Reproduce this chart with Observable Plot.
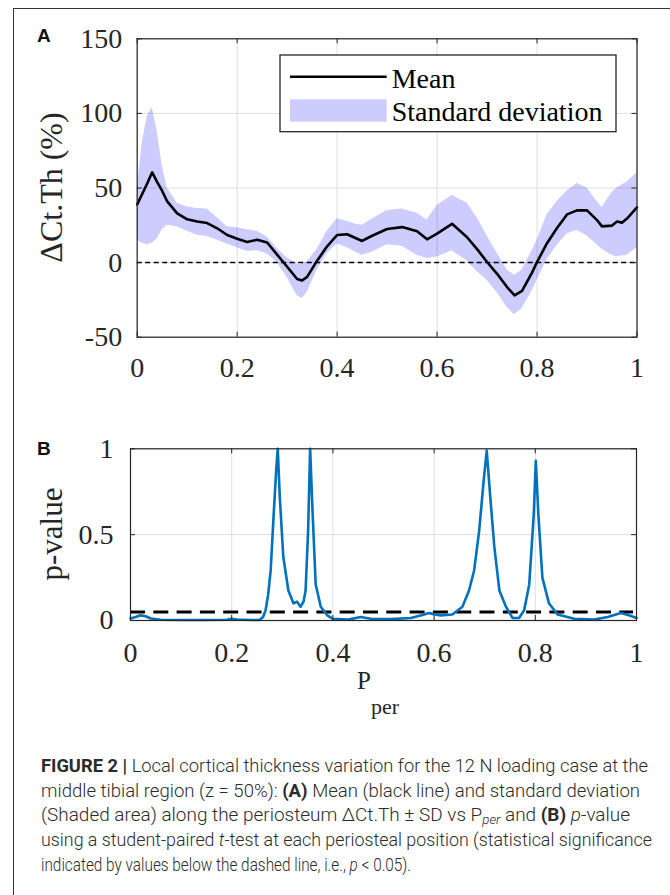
<!DOCTYPE html>
<html>
<head>
<meta charset="utf-8">
<script src="https://cdn.jsdelivr.net/npm/d3@7"></script>
<script src="https://cdn.jsdelivr.net/npm/@observablehq/plot@0.6"></script>
<style>
  html, body { margin: 0; padding: 0; background: #fff; }
  #fig { position: relative; width: 670px; height: 895px; overflow: hidden; background: #fff; }
  #border { position: absolute; left: 13px; top: 8px; width: 700px; height: 900px;
            border-left: 1px solid #333; border-top: 1px solid #333; }
  .abs { position: absolute; left: 0; }
  #overlay { position: absolute; left: 0; top: 0; }
  #caption { position: absolute; left: 41px; top: 757px; font-family: "Roboto", "Liberation Sans", sans-serif;
             font-weight: 300; font-size: 18.5px; color: #2b2b2b; }
  #caption .ln { position: absolute; left: 0; white-space: nowrap; transform-origin: 0 0; line-height: 1; }
  #caption b { font-weight: 700; color: #2b2b2b; }
  #caption sub { font-size: 0.7em; vertical-align: -0.25em; line-height: 0; }
</style>
</head>
<body>
<div id="fig">
  <div id="border"></div>
  <div id="plotA" class="abs" style="top:0px"></div>
  <div id="plotB" class="abs" style="top:400px"></div>
  <svg id="overlay" width="670" height="895"></svg>
  <div id="caption"></div>
</div>
<script>
// ---------- data ----------
const xTicks = [0, 0.2, 0.4, 0.6, 0.8, 1];
const yTicksA = [-50, 0, 50, 100, 150];
const yTicksB = [0, 0.5, 1];
const sigLevel = 0.05;

// Panel A: periosteal position, mean ΔCt.Th (%), lower / upper SD bounds
const posA  = [0,0.01,0.02,0.03,0.04,0.05,0.06, 0.08,0.10,0.12,0.14,0.16,0.18,0.20, 0.22,0.24,0.26,0.28,0.30,0.32, 0.33,0.34,0.36,0.38,0.40, 0.42,0.44,0.45,0.47,0.50, 0.53,0.56,0.58,0.60,0.63, 0.66,0.68,0.70,0.72,0.74, 0.755,0.77,0.79,0.80,0.82, 0.84,0.86,0.88,0.90,0.92, 0.93,0.95,0.96,0.97,0.98,1.00];
const meanA = [39,46,53,60.5,54,48,41, 33,29,27.5,26.5,23,18.5,16, 13.8,15.3,13.5,5.3,-2.8,-11, -12,-9.6,1.3,10.9,18.5, 19,16,14.5,18,22.5, 23.8,21,15.6,19.4,26, 17,9,0.4,-7.5,-16.4, -22,-19,-6.7,0.4,13, 23.2,32.3,35,35,28.5, 24.3,24.8,27.5,26.8,29.5,37];
const lowA  = [15,13,12,13,16,22,25, 24,21,18.3,17.5,15,12.5,10, 7.5,8,6,0,-10,-22, -24,-20,-5,6,12.7, 10,6.5,5,7,12, 11,5,2.7,3.7,8, 1,-6,-11.8,-20,-30, -35,-31,-19,-11.8,2, 11.4,19.4,21.5,18,12, 9,5,3.7,4.5,5,10];
const highA = [50,80,98,104,88,65,50, 40,37.2,36.3,36,30,24,23.4, 22,21,17.1,9.5,3,-1, -1,0.5,9,21,29.4, 27.5,25.5,25,29,35, 36,33,28.5,38.3,45, 40,30,18,6.5,-5, -8.5,-5,8,15,32, 41,48,53,50,41, 37,47,50,52,54,60];

// Panel B: periosteal position, p-value
const posB = [0,0.01,0.02,0.03,0.04,0.06,0.10,0.15,0.19,0.20,0.21,0.24,0.255,0.262,0.267,0.272,0.277,0.283,0.288,0.291,0.295,0.302,0.312,0.322,0.329,0.336,0.342,0.346,0.351,0.355,0.360,0.366,0.376,0.389,0.40,0.43,0.455,0.475,0.514,0.554,0.575,0.59,0.613,0.636,0.656,0.669,0.679,0.689,0.698,0.704,0.711,0.719,0.729,0.742,0.755,0.768,0.778,0.788,0.797,0.801,0.806,0.814,0.827,0.844,0.877,0.916,0.943,0.969,0.985,1.0];
const pB   = [0.012,0.02,0.03,0.025,0.012,0.004,0.003,0.003,0.004,0.01,0.006,0.003,0.003,0.02,0.06,0.15,0.29,0.62,0.88,1.0,0.72,0.37,0.175,0.1,0.11,0.08,0.11,0.175,0.52,1.0,0.62,0.21,0.08,0.03,0.01,0.005,0.02,0.01,0.008,0.015,0.03,0.043,0.03,0.035,0.08,0.175,0.29,0.52,0.815,0.99,0.72,0.43,0.175,0.08,0.015,0.015,0.06,0.21,0.62,0.93,0.62,0.25,0.1,0.035,0.01,0.005,0.02,0.043,0.03,0.015];

const dataA = posA.map((p, i) => ({p, m: meanA[i], lo: lowA[i], hi: highA[i]}));
const dataB = posB.map((p, i) => ({p, v: pB[i]}));

// ---------- helpers ----------
const axisCol = "#262626";
const gridCol = "#dedede";
const serif = "'Liberation Serif', 'Times New Roman', serif";
const fmt = d => String(d);

function frameMarks(xt, yt, plotW, plotH) {
  return [
    Plot.ruleX(xt, {x: d => d, stroke: axisCol, strokeWidth: 1, insetTop: plotH - 5}),
    Plot.ruleX(xt, {x: d => d, stroke: axisCol, strokeWidth: 1, insetBottom: plotH - 5}),
    Plot.ruleY(yt, {y: d => d, stroke: axisCol, strokeWidth: 1, insetRight: plotW - 5}),
    Plot.ruleY(yt, {y: d => d, stroke: axisCol, strokeWidth: 1, insetLeft: plotW - 5}),
    Plot.frame({stroke: axisCol, strokeWidth: 1.2})
  ];
}

// ---------- Panel A ----------
{
  const W = 670, H = 390, mT = 38.3, mB = 53.3, mL = 136.7, mR = 33.5;
  const plotW = W - mL - mR, plotH = H - mT - mB;
  const chart = Plot.plot({
    width: W, height: H, marginTop: mT, marginBottom: mB, marginLeft: mL, marginRight: mR,
    x: {domain: [0, 1]},
    y: {domain: [-50, 150]},
    style: {fontFamily: serif, color: axisCol, background: "transparent", overflow: "visible"},
    marks: [
      Plot.gridX(xTicks, {stroke: gridCol, strokeOpacity: 1}),
      Plot.gridY(yTicksA, {stroke: gridCol, strokeOpacity: 1}),
      Plot.areaY(dataA, {x: "p", y1: "lo", y2: "hi", fill: "#0000ff", fillOpacity: 0.2}),
      Plot.ruleY([0], {stroke: "#000", strokeWidth: 1.5, strokeDasharray: "5,3.5"}),
      Plot.line(dataA, {x: "p", y: "m", stroke: "#000", strokeWidth: 2.6}),
      ...frameMarks(xTicks, yTicksA, plotW, plotH),
      Plot.axisX(xTicks, {tickSize: 0, tickPadding: 20, fontSize: 28, tickFormat: fmt, label: null}),
      Plot.axisY(yTicksA, {tickSize: 0, tickPadding: 15, fontSize: 28, tickFormat: fmt, label: null})
    ]
  });
  document.getElementById("plotA").appendChild(chart);
}

// ---------- Panel B ----------
{
  const W = 670, H = 300, mT = 48.3, mB = 80, mL = 130, mR = 34;
  const plotW = W - mL - mR, plotH = H - mT - mB;
  const chart = Plot.plot({
    width: W, height: H, marginTop: mT, marginBottom: mB, marginLeft: mL, marginRight: mR,
    x: {domain: [0, 1]},
    y: {domain: [0, 1]},
    style: {fontFamily: serif, color: axisCol, background: "transparent", overflow: "visible"},
    marks: [
      Plot.gridX(xTicks, {stroke: gridCol, strokeOpacity: 1}),
      Plot.gridY(yTicksB, {stroke: gridCol, strokeOpacity: 1}),
      Plot.ruleY([sigLevel], {stroke: "#000", strokeWidth: 3, strokeDasharray: "15,8.3", insetRight: 3}),
      Plot.line(dataB, {x: "p", y: "v", stroke: "#0072bd", strokeWidth: 2.6}),
      ...frameMarks(xTicks, yTicksB, plotW, plotH),
      Plot.axisX(xTicks, {tickSize: 0, tickPadding: 22, fontSize: 28, tickFormat: fmt, label: null}),
      Plot.axisY(yTicksB, {tickSize: 0, tickPadding: 17, fontSize: 28, tickFormat: fmt, label: null})
    ]
  });
  document.getElementById("plotB").appendChild(chart);
}

// ---------- overlay: panel letters, axis titles, legend ----------
{
  const svg = d3.select("#overlay");
  const sans = "'Liberation Sans', Arial, sans-serif";
  svg.append("text").attr("x", 37).attr("y", 42).attr("font-family", sans).attr("font-weight", 700)
     .attr("font-size", 19).attr("fill", "#111").text("A");
  svg.append("text").attr("x", 37).attr("y", 455).attr("font-family", sans).attr("font-weight", 700)
     .attr("font-size", 19).attr("fill", "#111").text("B");

  svg.append("text").attr("transform", "translate(62,187.5) rotate(-90)").attr("text-anchor", "middle")
     .attr("font-family", serif).attr("font-size", 32).attr("fill", axisCol).text("ΔCt.Th (%)");
  svg.append("text").attr("transform", "translate(62,534) rotate(-90)").attr("text-anchor", "middle")
     .attr("font-family", serif).attr("font-size", 31).attr("fill", axisCol).text("p-value");

  const xl = svg.append("text").attr("font-family", serif).attr("fill", axisCol);
  xl.append("tspan").attr("x", 357).attr("y", 689).attr("font-size", 25).text("P");
  xl.append("tspan").attr("x", 371).attr("y", 714).attr("font-size", 22).text("per");

  // legend
  const g = svg.append("g");
  g.append("rect").attr("x", 280).attr("y", 55).attr("width", 336).attr("height", 76.7)
   .attr("fill", "#fff").attr("stroke", axisCol).attr("stroke-width", 1.3);
  g.append("line").attr("x1", 290).attr("x2", 386.7).attr("y1", 76.7).attr("y2", 76.7)
   .attr("stroke", "#000").attr("stroke-width", 2.6);
  g.append("rect").attr("x", 290).attr("y", 99.3).attr("width", 96.7).attr("height", 22.4)
   .attr("fill", "#0000ff").attr("fill-opacity", 0.2);
  g.append("text").attr("x", 391.7).attr("y", 88).attr("font-family", serif).attr("font-size", 28)
   .attr("fill", "#000").text("Mean");
  g.append("text").attr("x", 391.7).attr("y", 121).attr("font-family", serif).attr("font-size", 28)
   .attr("fill", "#000").text("Standard deviation");
}

// ---------- caption ----------
{
  const lines = [
    "<b>FIGURE 2 |</b> Local cortical thickness variation for the 12 N loading case at the",
    "middle tibial region (z = 50%): <b>(A)</b> Mean (black line) and standard deviation",
    "(Shaded area) along the periosteum ΔCt.Th ± SD vs P<sub><i>per</i></sub> and <b>(B)</b> <i>p</i>-value",
    "using a student-paired <i>t</i>-test at each periosteal position (statistical significance",
    "indicated by values below the dashed line, i.e., <i>p</i> &lt; 0.05)."
  ];
  // right-edge extents of each caption line in the reference (px from caption start)
  const targets = [607, 599, 589, 611, 370];
  const cap = document.getElementById("caption");
  lines.forEach((html, i) => {
    const d = document.createElement("div");
    d.className = "ln";
    d.style.top = (i * 24.7) + "px";
    d.innerHTML = html;
    cap.appendChild(d);
    const w = d.getBoundingClientRect().width;
    d.style.transform = `scaleX(${Math.min(1.2, targets[i] / w)})`;
  });
}
</script>
</body>
</html>
